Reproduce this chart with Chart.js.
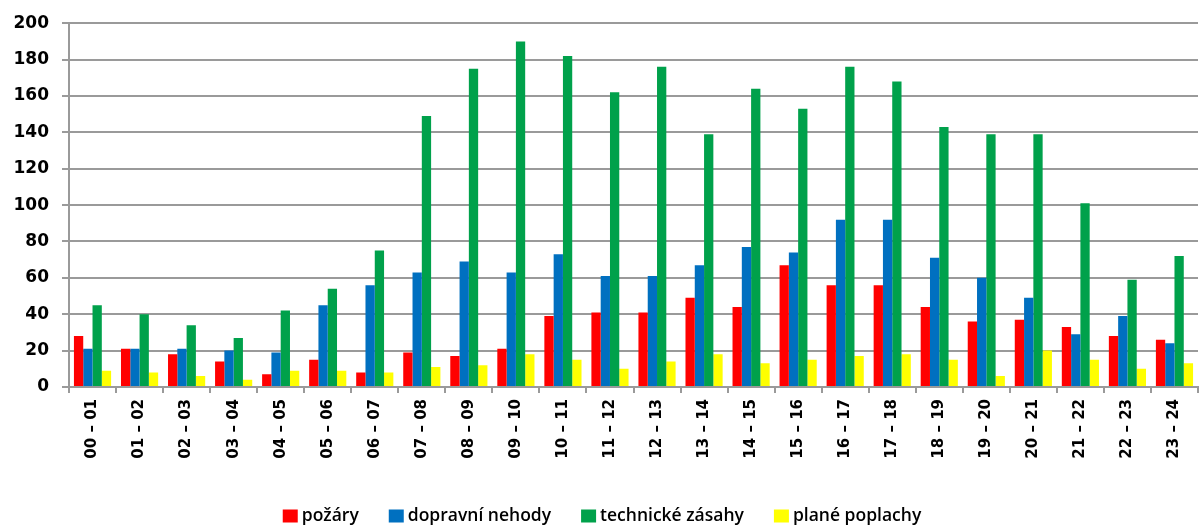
<!DOCTYPE html>
<html>
<head>
<meta charset="utf-8">
<script src="https://cdn.jsdelivr.net/npm/chart.js@4/dist/chart.umd.min.js"></script>
<style>
html,body{margin:0;padding:0;background:#fff;}
#wrap{width:1201px;height:525px;position:relative;}
</style>
</head>
<body>
<div id="wrap"><canvas id="c" width="1201" height="525"></canvas></div>
<script>
const categories = ["00 – 01","01 – 02","02 – 03","03 – 04","04 – 05","05 – 06","06 – 07","07 – 08","08 – 09","09 – 10","10 – 11","11 – 12","12 – 13","13 – 14","14 – 15","15 – 16","16 – 17","17 – 18","18 – 19","19 – 20","20 – 21","21 – 22","22 – 23","23 – 24"];
const pozary = [28,21,18,14,7,15,8,19,17,21,39,41,41,49,44,67,56,56,44,36,37,33,28,26];
const dopravniNehody = [21,21,21,20,19,45,56,63,69,63,73,61,61,67,77,74,92,92,71,60,49,29,39,24];
const technickeZasahy = [45,40,34,27,42,54,75,149,175,190,182,162,176,139,164,153,176,168,143,139,139,101,59,72];
const planePoplachy = [9,8,6,4,9,9,8,11,12,18,15,10,14,18,13,15,17,18,15,6,20,15,10,13];
const yTicks = [0,20,40,60,80,100,120,140,160,180,200];

const ds = (label, data, color) => ({
  label, data, backgroundColor: color, borderWidth: 0,
  categoryPercentage: 0.79, barPercentage: 1.0
});

// Legend drawn below the axis labels, using dataset labels and colours
const bottomLegend = {
  id: 'bottomLegend',
  afterDraw(chart) {
    const ctx = chart.ctx;
    const font = '600 17.5px "Open Sans"';
    const boxW = 15, boxH = 13, gapBox = 4, gapItem = 30;
    const cy = 516;
    ctx.save();
    ctx.font = font;
    const items = chart.data.datasets.map(d => ({ text: d.label, color: d.backgroundColor, w: ctx.measureText(d.label).width }));
    const total = items.reduce((s, it) => s + boxW + gapBox + it.w, 0) + gapItem * (items.length - 1);
    let x = 602 - total / 2;
    ctx.textBaseline = 'middle';
    ctx.textAlign = 'left';
    items.forEach(it => {
      ctx.fillStyle = it.color;
      ctx.fillRect(x, cy - boxH / 2, boxW, boxH);
      x += boxW + gapBox;
      ctx.fillStyle = '#000';
      ctx.fillText(it.text, x, cy);
      x += it.w + gapItem;
    });
    ctx.restore();
  }
};

new Chart(document.getElementById('c'), {
  type: 'bar',
  data: {
    labels: categories,
    datasets: [
      ds('požáry', pozary, '#ff0000'),
      ds('dopravní nehody', dopravniNehody, '#0070c0'),
      ds('technické zásahy', technickeZasahy, '#00a14b'),
      ds('plané poplachy', planePoplachy, '#ffff00')
    ]
  },
  plugins: [bottomLegend],
  options: {
    responsive: false,
    animation: false,
    layout: { padding: { top: 22, right: 3, left: 0, bottom: 0 } },
    plugins: {
      tooltip: { enabled: false },
      legend: { display: false }
    },
    scales: {
      x: {
        grid: { offset: true, drawOnChartArea: false, tickLength: 6, color: '#9a9a9a', lineWidth: 2 },
        border: { color: '#9a9a9a', width: 2 },
        ticks: {
          minRotation: 90, maxRotation: 90, autoSkip: false, padding: 6,
          color: '#000', font: { family: 'DejaVu Sans', weight: 'bold', size: 15 }
        },
        afterFit: s => { s.height = 138; }
      },
      y: {
        min: 0, max: 200,
        afterBuildTicks: s => { s.ticks = yTicks.map(v => ({ value: v })); },
        grid: { color: '#9a9a9a', lineWidth: 2, tickLength: 7 },
        border: { color: '#9a9a9a', width: 2 },
        ticks: {
          padding: 13, color: '#000',
          font: { family: 'DejaVu Sans', weight: 'bold', size: 17 }
        },
        afterFit: s => { s.width = 69; }
      }
    }
  }
});
</script>
</body>
</html>
